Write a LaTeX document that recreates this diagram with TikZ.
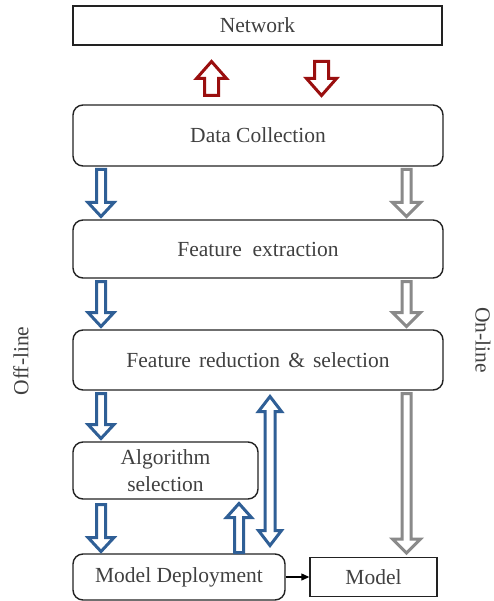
\documentclass[tikz,border=0pt]{standalone}
\usepackage{fontspec}
\setmainfont{Liberation Serif}
\usetikzlibrary{arrows.meta}
\definecolor{txt}{HTML}{404040}
\definecolor{bluearr}{HTML}{2F5F96}
\definecolor{redarr}{HTML}{9A0F0F}
\definecolor{grayarr}{HTML}{8A8A8A}
\definecolor{boxline}{HTML}{222222}
% down block arrow: color, x, ytop, ybot, shaft half width, head half width, head length
\newcommand{\myDownArr}[7]{%
  \draw[blockarr,draw=#1] ({#2-#5},#3) -- ({#2+#5},#3) -- ({#2+#5},{#4-#7}) -- ({#2+#6},{#4-#7}) -- (#2,#4) -- ({#2-#6},{#4-#7}) -- ({#2-#5},{#4-#7}) -- cycle;}
\newcommand{\myUpArr}[7]{%
  \draw[blockarr,draw=#1] (#2,#3) -- ({#2+#6},{#3+#7}) -- ({#2+#5},{#3+#7}) -- ({#2+#5},#4) -- ({#2-#5},#4) -- ({#2-#5},{#3+#7}) -- ({#2-#6},{#3+#7}) -- cycle;}
\newcommand{\myDblArr}[7]{%
  \draw[blockarr,draw=#1] (#2,#3) -- ({#2+#6},{#3+#7}) -- ({#2+#5},{#3+#7}) -- ({#2+#5},{#4-#7}) -- ({#2+#6},{#4-#7}) -- (#2,#4) -- ({#2-#6},{#4-#7}) -- ({#2-#5},{#4-#7}) -- ({#2-#5},{#3+#7}) -- ({#2-#6},{#3+#7}) -- cycle;}
\begin{document}
\begin{tikzpicture}[x=1pt,y=-1pt,
  blockarr/.style={line width=3pt,fill=white,line join=miter},
  sqbox/.style={draw=boxline,line width=1.4pt,inner sep=0pt,text=txt,align=center,
    font=\fontsize{21.5}{27}\selectfont},
  rbox/.style={sqbox,rounded corners=10pt},
  sidelabel/.style={text=txt,inner sep=0pt,font=\fontsize{21.5}{27}\selectfont}]
\useasboundingbox (0,0) rectangle (493,601);
\fill[white] (0,0) rectangle (493,601);

\node[sqbox,minimum width=369pt,minimum height=39pt] (net) at (257.5,25.5) {Network};
\node[rbox,minimum width=370pt,minimum height=61pt] (dc) at (258,135.5) {Data Collection};
\node[rbox,minimum width=370pt,minimum height=58pt] (fe) at (258,249) {Feature\ \ extraction};
\node[rbox,minimum width=370pt,minimum height=60pt] (fr) at (258,360) {Feature\ \hspace{2.7pt}reduction\ \hspace{2.7pt}\&\ \hspace{2.7pt}selection};
\node[rbox,minimum width=185pt,minimum height=57pt] (as) at (165.5,470.5) {Algorithm\\selection};
\node[rbox,minimum width=212pt,minimum height=46pt] (md) at (179,577) {Model Deployment};
\node[sqbox,minimum width=127pt,minimum height=39pt] (mo) at (373.5,577) {Model};

\node[sidelabel,rotate=90] (off) at (21,361) {Off-line};
\node[sidelabel,rotate=-90] (on) at (483,340) {On-line};

% red arrows
\myUpArr{redarr}{211.5}{61.5}{95.5}{7}{15}{17}
\myDownArr{redarr}{321.5}{61.5}{95.5}{7}{15}{17}
% blue / gray between top boxes
\myDownArr{bluearr}{101}{169.5}{216.5}{4.5}{13}{14}
\myDownArr{grayarr}{406.5}{169.5}{216.5}{4.5}{14}{14}
\myDownArr{bluearr}{101}{281.5}{326.5}{4.5}{13}{14}
\myDownArr{grayarr}{406.5}{281.5}{326.5}{4.5}{14}{14}
% lower part
\myDownArr{bluearr}{101}{393.5}{438.5}{4.5}{13}{14}
\myDownArr{bluearr}{101}{504.5}{551.5}{4.5}{13}{14}
\myDownArr{grayarr}{406.5}{393.5}{553}{4.5}{14}{14}
\myUpArr{bluearr}{239}{503.5}{552.5}{4.5}{12.5}{14}
\myDblArr{bluearr}{270}{396.5}{545.5}{5}{11.5}{15}

\draw[line width=1.2pt,-{Triangle[length=8pt,width=7pt]}] (md.east) -- (md.east -| mo.west);
\end{tikzpicture}
\end{document}
